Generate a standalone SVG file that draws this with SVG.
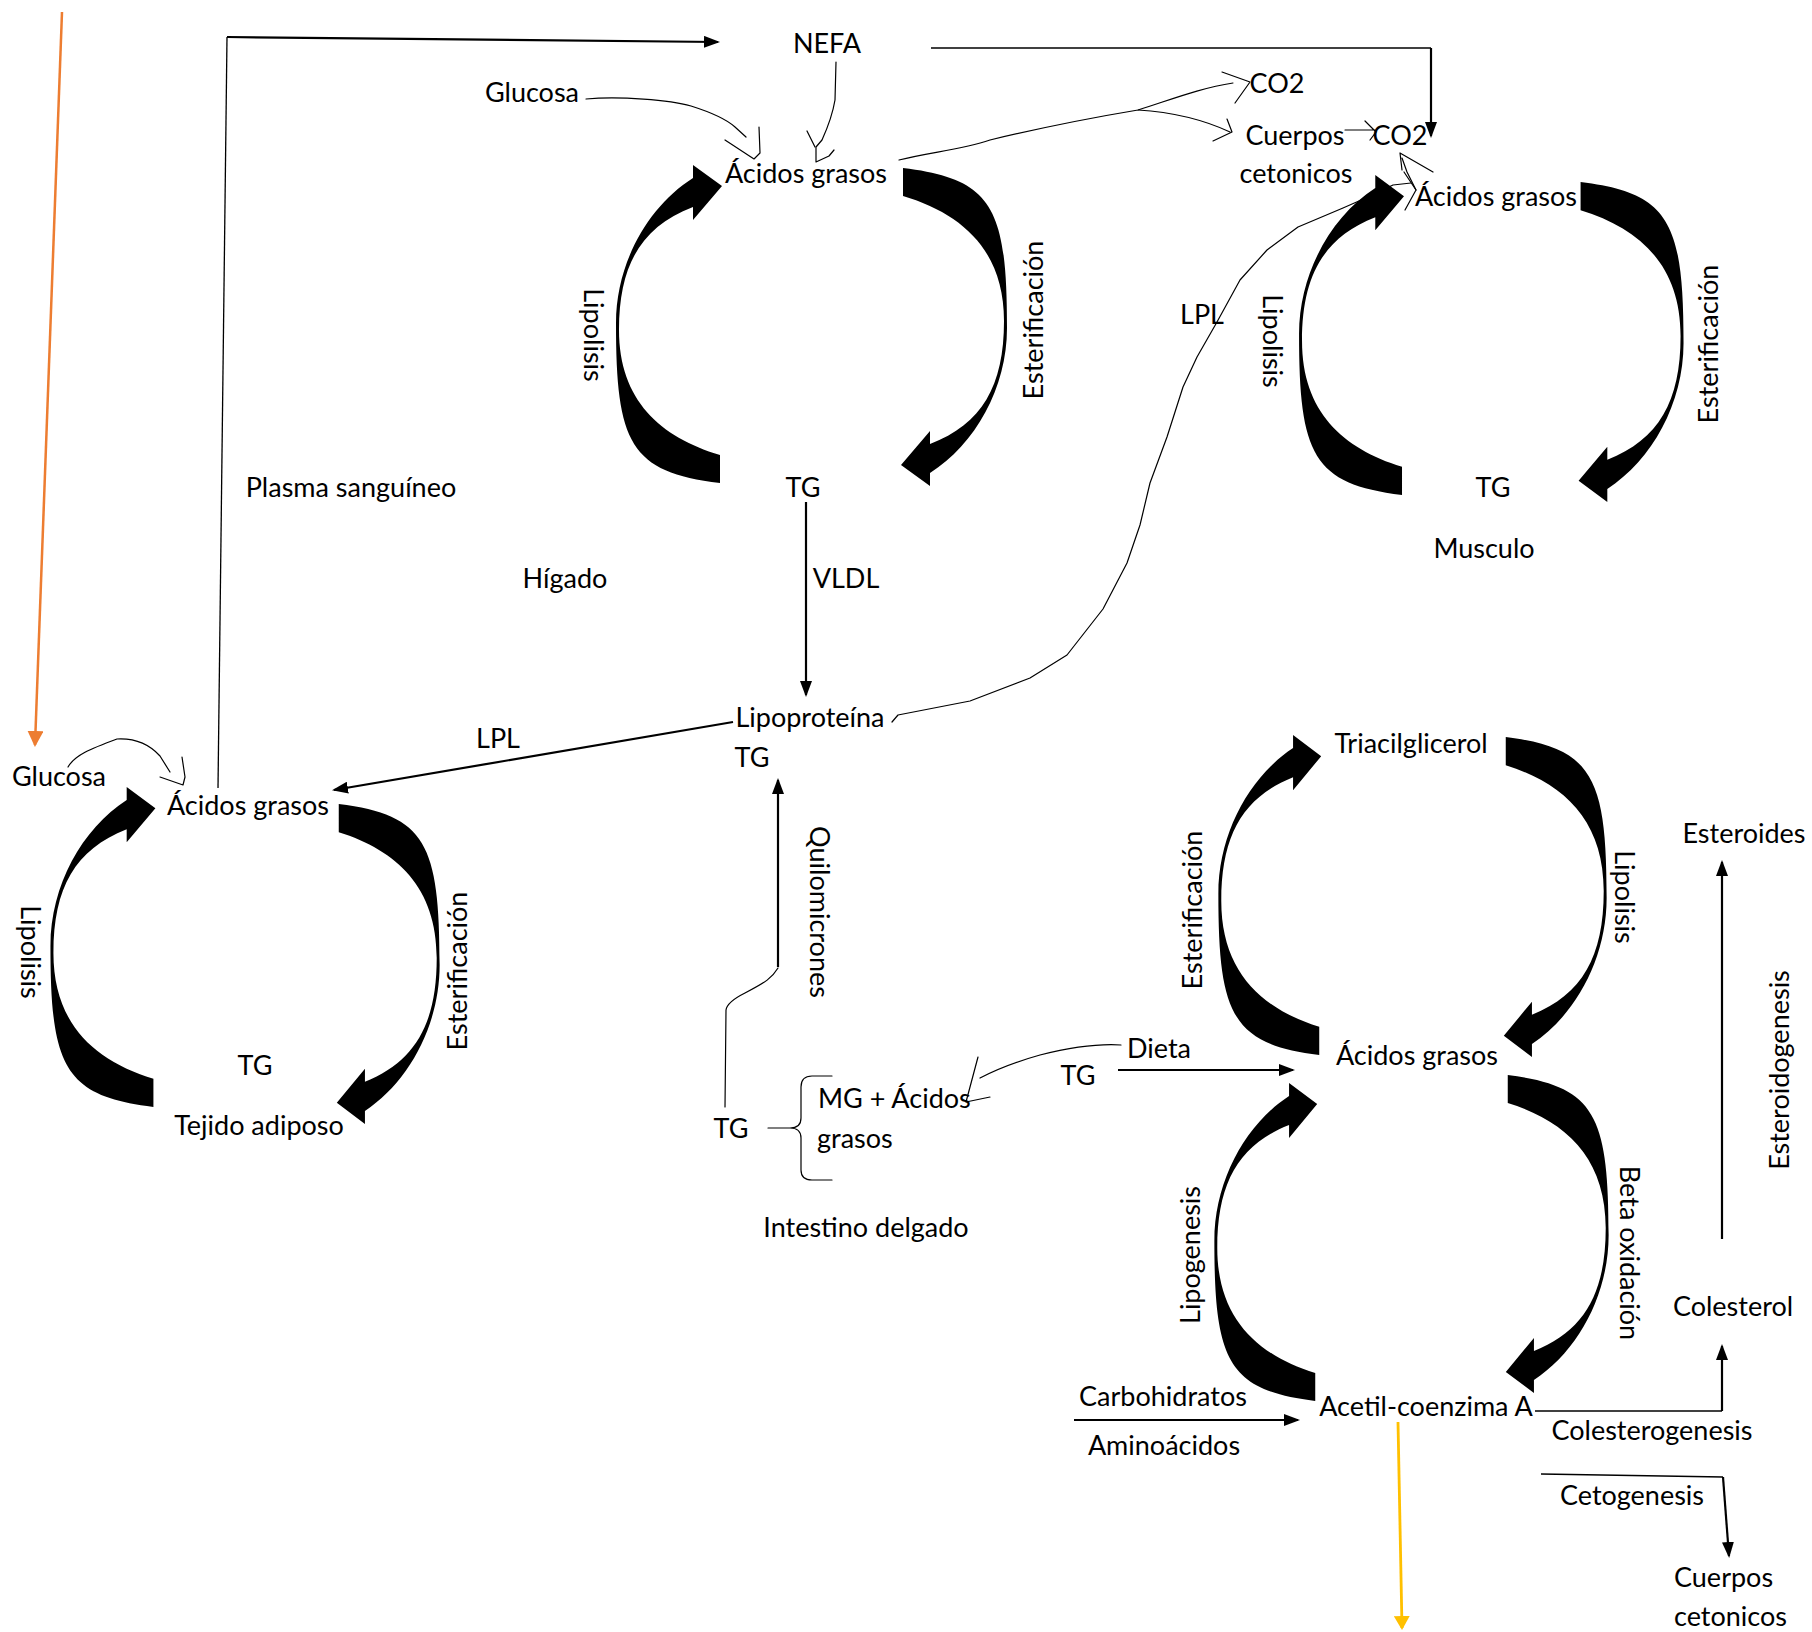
<svg xmlns="http://www.w3.org/2000/svg" xmlns:xlink="http://www.w3.org/1999/xlink" width="1812" height="1632" viewBox="0 0 1812 1632">
<style>
text{font-family:Lato,"Liberation Sans",sans-serif;font-size:27px;fill:#000;text-anchor:middle}
.s{text-anchor:start}
.ln{fill:none;stroke:#000;stroke-width:2.2}
.th{fill:none;stroke:#000;stroke-width:1.3}
.hd{fill:none;stroke:#000;stroke-width:1.2;stroke-linejoin:round;stroke-linecap:round}
.arc{fill:#000}
</style>
<defs>
<marker id="ah" viewBox="0 0 16 12" refX="14" refY="6" markerWidth="16" markerHeight="12" markerUnits="userSpaceOnUse" orient="auto"><path d="M0,0 L16,6 L0,12 Z" fill="#000"/></marker>
<marker id="aho" viewBox="0 0 16 16" refX="14" refY="8" markerWidth="16" markerHeight="16" markerUnits="userSpaceOnUse" orient="auto"><path d="M0,0 L16,8 L0,16 Z" fill="#ED7D31"/></marker>
<marker id="ahy" viewBox="0 0 14 16" refX="12" refY="8" markerWidth="14" markerHeight="16" markerUnits="userSpaceOnUse" orient="auto"><path d="M0,0 L14,8 L0,16 Z" fill="#FFC000"/></marker>
<path id="arc" d="M-91.5,157 C-181.5,146.2 -195.5,117 -195.5,-3 C-195.5,-63 -163.5,-119.5 -118.5,-148 L-118.5,-161 L-89.5,-140 L-118.5,-106 L-118.5,-119 C-170.5,-99 -192.5,-61 -192.5,4 C-192.5,74 -151.5,111 -91.5,129 Z"/>
</defs>
<rect width="1812" height="1632" fill="#fff"/>

<g id="connectors">
<!-- cycle arrows -->
<use href="#arc" class="arc" transform="translate(811.5,326)"/>
<use href="#arc" class="arc" transform="translate(811.5,325) rotate(180)"/>
<use href="#arc" class="arc" transform="translate(1492.6,337) scale(0.99,1.006)"/>
<use href="#arc" class="arc" transform="translate(1490,340) scale(0.99,1.006) rotate(180)"/>
<use href="#arc" class="arc" transform="translate(244,949) scale(0.99,1.006)"/>
<use href="#arc" class="arc" transform="translate(250,962) scale(0.97,1.006) rotate(180)"/>
<use href="#arc" class="arc" transform="translate(1408,897) scale(0.97,1.006)"/>
<use href="#arc" class="arc" transform="translate(1417,895) scale(0.97,1.006) rotate(180)"/>
<use href="#arc" class="arc" transform="translate(1404,1244) scale(0.97,1)"/>
<use href="#arc" class="arc" transform="translate(1419,1232) scale(0.97,1) rotate(180)"/>

<!-- straight connectors -->
<line x1="62" y1="12" x2="35" y2="745" stroke="#ED7D31" stroke-width="2.5" marker-end="url(#aho)"/>
<line x1="1398" y1="1422" x2="1402" y2="1628" stroke="#FFC000" stroke-width="2.8" marker-end="url(#ahy)"/>
<polyline class="th" points="218,788 227,37"/>
<line class="ln" x1="227" y1="37" x2="718" y2="42" marker-end="url(#ah)"/>
<polyline class="th" points="931,48 1431,48"/>
<line class="ln" x1="1431" y1="48" x2="1431" y2="136" marker-end="url(#ah)"/>
<line class="ln" x1="806" y1="502" x2="806" y2="695" marker-end="url(#ah)"/>
<line class="ln" x1="778" y1="967" x2="778" y2="780" marker-end="url(#ah)"/>
<line class="ln" x1="733" y1="722" x2="334" y2="790" marker-end="url(#ah)"/>
<line class="ln" x1="1118" y1="1070" x2="1293" y2="1070" marker-end="url(#ah)"/>
<line class="ln" x1="1074" y1="1420" x2="1298" y2="1420" marker-end="url(#ah)"/>
<line class="ln" x1="1722" y1="1239" x2="1722" y2="862" marker-end="url(#ah)"/>
<polyline class="th" points="1535,1411 1722,1411"/>
<line class="ln" x1="1722" y1="1411" x2="1722" y2="1346" marker-end="url(#ah)"/>
<polyline class="th" points="1541,1474 1723,1477"/>
<line class="ln" x1="1723" y1="1477" x2="1729" y2="1556" marker-end="url(#ah)"/>

<!-- hand drawn connectors -->
<path class="hd" d="M586,99 C620,96 670,100 691,106 C710,112 725,118 735,127 L746,137"/>
<path class="hd" d="M725,140 L754,159 L760,153 L759,127"/>
<path class="hd" d="M836,62 L835,100 Q832,118 822,140 L816,147 L816,162 L829,156 L834,150"/>
<path class="hd" d="M807,131 L815,147"/>
<path class="hd" d="M899,160 C930,152 960,150 990,140 C1040,128 1090,118 1138,110 C1170,100 1200,88 1233,83"/>
<path class="hd" d="M1138,110 C1170,112 1200,118 1230,132"/>
<path class="hd" d="M1222,72 L1250,82 L1235,103"/>
<path class="hd" d="M1227,119 L1232,132 L1213,141"/>
<path class="hd" d="M1345,130 L1375,130 M1365,121 L1376,132 L1370,140"/>
<path class="hd" d="M1433,172 L1400,153 L1402,170 M1402,158 L1407,172 L1416,190"/>
<path class="hd" d="M892,722 L898,715 L970,701 L1030,678 L1067,655 L1103,609 L1127,563 L1140,525 L1150,483 L1167,437 L1183,387 L1197,357 L1217,322 L1240,280 L1267,250 L1298,227 L1343,208 L1368,197 L1393,185 L1411,183"/>
<path class="hd" d="M1404,172 L1416,190 L1405,210"/>
<path class="hd" d="M778,968 C772,978 766,982 745,993 C735,998 727,1003 726,1010 L725,1107"/>
<path class="hd" d="M768,1128 L790,1128 Q801,1128 801,1118 L801,1087 Q801,1076 812,1076 L832,1076 M790,1128 Q801,1128 801,1138 L801,1170 Q801,1180 812,1180 L832,1180"/>
<path class="hd" d="M1121,1045 C1090,1043 1060,1050 1040,1055 C1015,1062 995,1070 980,1078"/>
<path class="hd" d="M978,1057 L966,1102 L990,1097"/>
<path class="hd" d="M68,767 C75,755 90,749 117,739 C135,738 150,745 160,756 L170,772"/>
<path class="hd" d="M160,777 L183,785 M182,757 L185,777 L183,785"/>
</g>

<g id="nodes">
<g id="n-nefa"><text x="827" y="53">NEFA</text></g>
<g id="n-glucosa-h"><text x="532" y="102">Glucosa</text></g>
<g id="n-ag-higado"><text x="806" y="183">Ácidos grasos</text></g>
<g id="n-co2-a"><text x="1277" y="93">CO2</text></g>
<g id="n-cuerpos-a"><text x="1295" y="145">Cuerpos</text><text x="1296" y="183">cetonicos</text></g>
<g id="n-co2-b"><text x="1400" y="145">CO2</text></g>
<g id="n-ag-musculo"><text x="1496" y="206">Ácidos grasos</text></g>
<g id="l-lipolisis-h"><text transform="translate(593,335) rotate(90)" y="9">Lipolisis</text></g>
<g id="l-ester-h"><text transform="translate(1034,320) rotate(-90)" y="9">Esterificación</text></g>
<g id="l-lpl-m"><text x="1202" y="324">LPL</text></g>
<g id="l-lipolisis-m"><text transform="translate(1272,341) rotate(90)" y="9">Lipolisis</text></g>
<g id="l-ester-m"><text transform="translate(1709,344) rotate(-90)" y="9">Esterificación</text></g>
<g id="n-tg-higado"><text x="803" y="497">TG</text></g>
<g id="n-plasma"><text x="351" y="497">Plasma sanguíneo</text></g>
<g id="n-tg-musculo"><text x="1493" y="497">TG</text></g>
<g id="n-musculo"><text x="1484" y="558">Musculo</text></g>
<g id="n-higado"><text x="565" y="588">Hígado</text></g>
<g id="l-vldl"><text x="846" y="588">VLDL</text></g>
<g id="n-lipoproteina"><text x="810" y="727">Lipoproteína</text><text x="752" y="767">TG</text></g>
<g id="l-lpl-a"><text x="498" y="748">LPL</text></g>
<g id="n-glucosa-a"><text x="59" y="786">Glucosa</text></g>
<g id="n-ag-adiposo"><text x="248" y="815">Ácidos grasos</text></g>
<g id="l-lipolisis-a"><text transform="translate(30,952) rotate(90)" y="9">Lipolisis</text></g>
<g id="l-ester-a"><text transform="translate(458,971) rotate(-90)" y="9">Esterificación</text></g>
<g id="n-tg-adiposo"><text x="255" y="1075">TG</text></g>
<g id="n-tejido"><text x="259" y="1135">Tejido adiposo</text></g>
<g id="l-quilo"><text transform="translate(819,912) rotate(90)" y="9">Quilomicrones</text></g>
<g id="n-tg-intestino"><text x="731" y="1138">TG</text></g>
<g id="n-mg"><text class="s" x="818" y="1108">MG + Ácidos</text><text class="s" x="817" y="1148">grasos</text></g>
<g id="n-dieta"><text x="1159" y="1058">Dieta</text><text x="1078" y="1085">TG</text></g>
<g id="n-intestino"><text x="866" y="1237">Intestino delgado</text></g>
<g id="n-tag"><text x="1411" y="753">Triacilglicerol</text></g>
<g id="n-esteroides"><text x="1744" y="843">Esteroides</text></g>
<g id="l-ester-r"><text transform="translate(1193,910) rotate(-90)" y="9">Esterificación</text></g>
<g id="l-lipolisis-r"><text transform="translate(1624,897) rotate(90)" y="9">Lipolisis</text></g>
<g id="n-ag-r"><text x="1417" y="1065">Ácidos grasos</text></g>
<g id="l-esteroido"><text transform="translate(1780,1070) rotate(-90)" y="9">Esteroidogenesis</text></g>
<g id="l-lipogenesis"><text transform="translate(1191,1255) rotate(-90)" y="9">Lipogenesis</text></g>
<g id="l-beta"><text transform="translate(1629,1253) rotate(90)" y="9">Beta oxidación</text></g>
<g id="n-colesterol"><text x="1733" y="1316">Colesterol</text></g>
<g id="n-carbo"><text x="1163" y="1406">Carbohidratos</text><text x="1164" y="1455">Aminoácidos</text></g>
<g id="n-acetil"><text x="1426" y="1416">Acetil-coenzima A</text></g>
<g id="l-colesterogenesis"><text x="1652" y="1440">Colesterogenesis</text></g>
<g id="l-cetogenesis"><text x="1632" y="1505">Cetogenesis</text></g>
<g id="n-cuerpos-b"><text class="s" x="1674" y="1587">Cuerpos</text><text class="s" x="1674" y="1626">cetonicos</text></g>
</g>
</svg>
